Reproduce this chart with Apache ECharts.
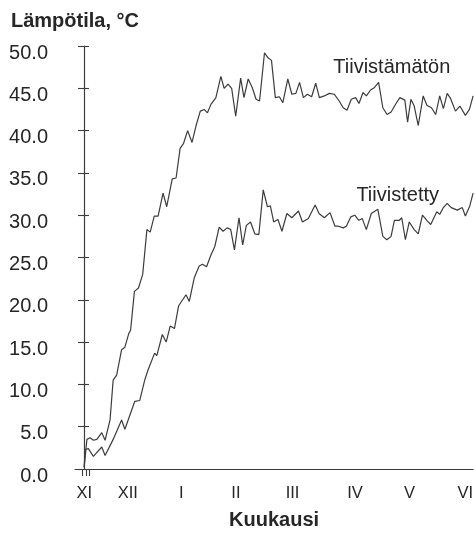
<!DOCTYPE html>
<html>
<head>
<meta charset="utf-8">
<script src="https://cdn.jsdelivr.net/npm/echarts@6/dist/echarts.min.js"></script>
<style>
  html, body { margin: 0; padding: 0; background: #fff; }
  #chart { width: 476px; height: 535px; }
</style>
</head>
<body>
<div id="chart"></div>
<script>
// Days counted from the start of the measurement, temperature in °C
const daysUnsealed = [0, 1.5, 3.2, 5.0, 6.9, 9.6, 11.4, 14.1, 15.8, 17.7, 20.4, 22.2, 24.3, 25.3, 27.4, 29.6, 31.9, 34.2, 36.0, 38.2, 40.3, 43.0, 45.0, 48.0, 50.1, 52.3, 54.2, 56.4, 58.8, 61.0, 63.3, 65.4, 67.2, 69.1, 71.8, 74.5, 76.3, 78.4, 80.4, 82.6, 85.3, 87.1, 89.4, 91.6, 93.7, 95.6, 98.3, 100.2, 102.1, 104.2, 106.4, 108.3, 111.0, 113.2, 115.4, 117.4, 119.5, 121.7, 124.0, 126.2, 128.2, 130.9, 133.6, 136.3, 139.0, 141.2, 143.3, 145.6, 148.0, 149.8, 152.0, 153.8, 156.1, 158.3, 160.5, 162.8, 165.1, 167.3, 170.0, 172.1, 174.8, 176.3, 178.1, 179.9, 182.1, 184.8, 186.8, 189.3, 191.6, 193.8, 195.8, 197.9, 199.7, 202.4, 204.8, 207.8, 210.0, 212.0];
const tempUnsealed = [0.2, 3.5, 3.7, 3.4, 3.5, 4.3, 3.4, 5.8, 10.5, 11.1, 14.1, 14.4, 16.0, 16.4, 21.0, 21.4, 23.0, 28.3, 28.0, 29.9, 29.9, 32.6, 31.0, 34.3, 34.4, 37.9, 38.5, 40.0, 38.6, 40.6, 42.3, 42.5, 42.1, 43.1, 43.9, 46.4, 45.0, 45.5, 45.0, 41.7, 46.2, 43.9, 46.1, 45.1, 43.7, 43.5, 49.2, 48.6, 48.3, 43.9, 44.0, 43.3, 46.1, 44.3, 44.4, 45.7, 43.9, 44.3, 44.0, 45.6, 43.9, 44.1, 44.4, 44.3, 43.5, 42.7, 42.4, 43.7, 43.9, 43.2, 44.5, 44.1, 44.8, 45.1, 45.7, 42.7, 41.9, 42.2, 43.2, 43.9, 43.6, 41.0, 43.7, 42.9, 40.6, 44.1, 43.0, 42.7, 41.9, 44.1, 42.6, 44.4, 43.8, 42.3, 42.9, 41.8, 42.5, 44.1];

const daysSealed = [0, 0.5, 2.3, 5.0, 9.6, 11.4, 15.8, 20.4, 22.2, 27.6, 30.3, 33.0, 34.8, 38.4, 39.6, 42.6, 44.7, 46.9, 49.2, 51.5, 55.5, 57.3, 60.0, 62.7, 64.5, 66.7, 69.1, 71.2, 73.6, 75.7, 78.0, 79.9, 81.9, 84.4, 86.4, 88.4, 90.7, 93.0, 95.2, 97.6, 99.9, 101.5, 103.3, 105.6, 107.8, 110.5, 113.2, 116.8, 119.0, 122.2, 125.9, 128.0, 130.9, 134.0, 136.7, 138.5, 141.2, 142.9, 145.3, 147.5, 149.7, 151.6, 153.8, 156.5, 160.1, 162.8, 165.0, 167.3, 169.1, 171.8, 173.1, 175.1, 177.2, 179.9, 182.1, 184.4, 187.1, 188.9, 192.2, 193.8, 195.8, 197.9, 200.1, 203.4, 206.1, 207.8, 210.2, 212.0];
const tempSealed = [0.2, 2.3, 2.4, 1.5, 2.6, 1.6, 3.5, 5.8, 4.7, 8.0, 8.1, 10.5, 11.7, 13.7, 13.4, 15.9, 15.0, 16.9, 16.6, 19.3, 20.6, 19.8, 22.6, 24.0, 24.2, 23.9, 25.3, 26.3, 28.6, 28.1, 28.5, 28.3, 25.9, 29.7, 26.5, 28.8, 29.2, 27.8, 27.7, 33.0, 31.0, 31.1, 29.2, 29.5, 28.1, 30.2, 29.7, 30.5, 29.2, 29.6, 31.2, 30.2, 29.7, 30.3, 28.7, 28.7, 28.5, 28.7, 29.8, 30.0, 29.4, 29.6, 28.3, 30.2, 30.7, 27.5, 27.1, 27.5, 29.4, 29.4, 29.7, 27.1, 29.2, 28.3, 27.8, 30.0, 29.3, 28.9, 30.4, 30.1, 30.9, 31.4, 30.9, 30.6, 30.9, 29.9, 31.1, 32.6];

// Month labels and where they sit on the day axis
const monthNames = ['XI', 'XII', 'I', 'II', 'III', 'IV', 'V', 'VI'];
const monthDays = [0, 23.8, 53, 82.7, 113.6, 147.6, 177.4, 207.7];
// Short marks at the very start of the day axis
const startMarks = [-0.8, 0.9, 2.6];

const yTicks = [0, 5, 10, 15, 20, 25, 30, 35, 40, 45, 50];

const seriesNames = ['Tiivistämätön', 'Tiivistetty'];
const seriesLabelAt = [[167.7, 47.5], [170.9, 32.3]];

const FONT = '"Liberation Sans", Arial, Helvetica, sans-serif';
const INK = '#262626';
const LINE = '#3c3c3c';

const pair = (xs, ys) => xs.map((x, i) => [x, ys[i]]);

const chart = echarts.init(document.getElementById('chart'), null, { renderer: 'canvas' });

const labelMark = (name, at) => ({
  symbol: 'circle',
  symbolSize: 0,
  silent: true,
  data: [{ coord: at, value: name }],
  label: {
    show: true,
    position: 'inside',
    formatter: name,
    fontFamily: FONT,
    fontSize: 20,
    color: INK
  }
});

// The temperature axis sits at day 0, a little right of the plot's left edge
const Y_AXIS_SHIFT = -9;

chart.setOption({
  animation: false,
  backgroundColor: '#fff',
  title: {
    text: 'Lämpötila, °C',
    left: 6,
    top: 6,
    textStyle: { fontFamily: FONT, fontSize: 20, fontWeight: 'bold', color: INK }
  },
  grid: { left: 75, right: 0, top: 46, bottom: 62, containLabel: false },
  xAxis: {
    type: 'value',
    min: -5,
    max: 212,
    name: 'Kuukausi',
    nameLocation: 'middle',
    nameGap: 41,
    nameTextStyle: { fontFamily: FONT, fontSize: 20, fontWeight: 'bold', color: INK },
    splitLine: { show: false },
    axisLine: { show: true, lineStyle: { color: LINE, width: 1.2 } },
    axisTick: {
      show: true,
      inside: false,
      length: 7,
      customValues: startMarks,
      lineStyle: { color: LINE, width: 1.1 }
    },
    axisLabel: {
      show: true,
      customValues: monthDays,
      margin: 16,
      fontFamily: FONT,
      fontSize: 16.5,
      color: INK,
      formatter: (v) => {
        const i = monthDays.indexOf(v);
        return i >= 0 ? monthNames[i] : '';
      }
    }
  },
  yAxis: [
    {
      type: 'value',
      min: 0,
      max: 50,
      interval: 5,
      offset: Y_AXIS_SHIFT,
      splitLine: { show: false },
      axisLine: { show: true, onZero: false, lineStyle: { color: LINE, width: 1.2 } },
      axisTick: { show: true, inside: false, length: 6, customValues: yTicks, lineStyle: { color: LINE, width: 1.1 } },
      axisLabel: {
        margin: 36,
        verticalAlign: 'top',
        lineHeight: 14,
        fontFamily: FONT,
        fontSize: 20,
        color: INK,
        formatter: (v) => v.toFixed(1)
      }
    },
    {
      type: 'value',
      min: 0,
      max: 50,
      interval: 5,
      position: 'left',
      offset: Y_AXIS_SHIFT,
      splitLine: { show: false },
      axisLine: { show: false, onZero: false },
      axisTick: { show: true, inside: true, length: 5, customValues: yTicks, lineStyle: { color: LINE, width: 1.1 } },
      axisLabel: { show: false }
    }
  ],
  series: [
    {
      name: seriesNames[0],
      type: 'line',
      data: pair(daysUnsealed, tempUnsealed),
      showSymbol: false,
      symbol: 'none',
      lineStyle: { color: LINE, width: 1.2 },
      markPoint: labelMark(seriesNames[0], seriesLabelAt[0])
    },
    {
      name: seriesNames[1],
      type: 'line',
      data: pair(daysSealed, tempSealed),
      showSymbol: false,
      symbol: 'none',
      lineStyle: { color: LINE, width: 1.2 },
      markPoint: labelMark(seriesNames[1], seriesLabelAt[1])
    }
  ]
});
</script>
</body>
</html>
